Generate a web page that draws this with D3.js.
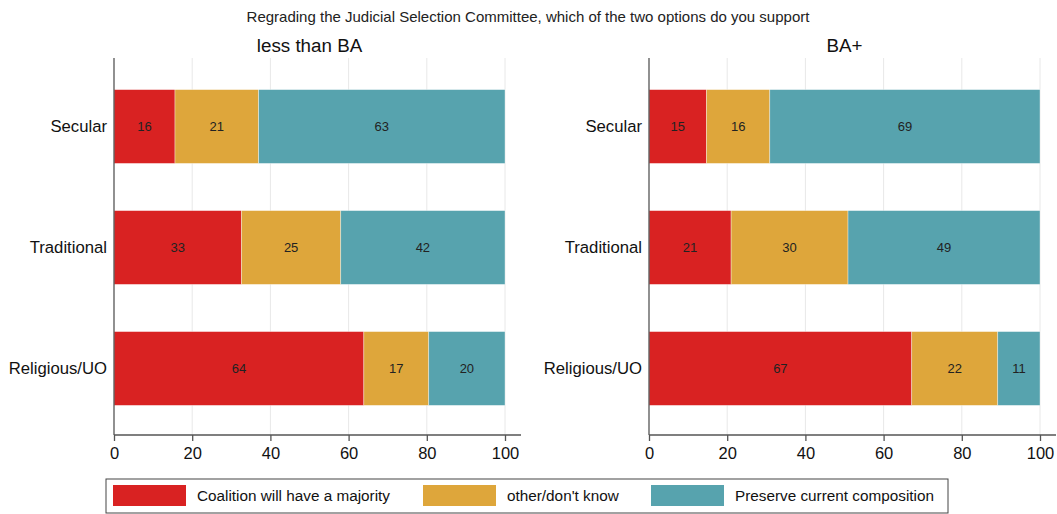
<!DOCTYPE html>
<html>
<head>
<meta charset="utf-8">
<script src="https://cdn.jsdelivr.net/npm/d3@7"></script>
<style>
  body { margin: 0; background: #fff; }
  svg { font-family: "Liberation Sans", Arial, sans-serif; }
</style>
</head>
<body>
<svg id="chart" width="1057" height="514"></svg>
<script>
// data
const categories = ["Secular", "Traditional", "Religious/UO"];
const seriesNames = ["Coalition will have a majority", "other/don't know", "Preserve current composition"];
const panelTitles = ["less than BA", "BA+"];
const lessThanBA = [
  [15.6, 21.4, 63.0],
  [32.6, 25.4, 42.0],
  [63.9, 16.6, 19.5]
];
const baPlus = [
  [14.7, 16.2, 69.1],
  [21.0, 29.9, 49.1],
  [67.2, 22.0, 10.8]
];
const xTicks = [0, 20, 40, 60, 80, 100];
const colors = ["#d92222", "#dea63b", "#57a3ae"];

const svg = d3.select("#chart");

svg.append("text")
  .attr("x", 528).attr("y", 22)
  .attr("text-anchor", "middle")
  .attr("font-size", 15)
  .attr("fill", "#222")
  .text("Regrading the Judicial Selection Committee, which of the two options do you support");

const panels = [
  {title: panelTitles[0], data: lessThanBA, left: 114},
  {title: panelTitles[1], data: baPlus, left: 649}
];

const plotTop = 58, plotBottom = 435, plotW = 391;

panels.forEach(p => {
  const g = svg.append("g").attr("transform", `translate(${p.left},0)`);

  const x = d3.scaleLinear().domain([0, 100]).range([0, plotW]);
  const y = d3.scaleBand().domain(categories).range([plotTop + 5, plotBottom - 3]).paddingInner(0.39).paddingOuter(0.22);

  // panel title
  g.append("text")
    .attr("x", plotW / 2).attr("y", 52)
    .attr("text-anchor", "middle")
    .attr("font-size", 18.8)
    .attr("fill", "#111")
    .text(p.title);

  // grid lines
  g.selectAll(".grid").data(xTicks.slice(1)).join("line")
    .attr("x1", d => x(d)).attr("x2", d => x(d))
    .attr("y1", plotTop).attr("y2", plotBottom)
    .attr("stroke", "#e8e8e8").attr("stroke-width", 1);

  // stacked bars
  const rows = p.data.map((vals, i) => {
    let acc = 0;
    return vals.map((v, k) => {
      const seg = {cat: categories[i], k: k, x0: acc, x1: acc + v, v: v};
      acc += v;
      return seg;
    });
  }).flat();

  g.selectAll(".bar").data(rows).join("rect")
    .attr("x", d => x(d.x0))
    .attr("y", d => y(d.cat))
    .attr("width", d => x(d.x1) - x(d.x0))
    .attr("height", y.bandwidth())
    .attr("fill", d => colors[d.k])
    .attr("stroke", "#fff").attr("stroke-width", 0.6).attr("stroke-opacity", 0.6);

  g.selectAll(".lab").data(rows).join("text")
    .attr("x", d => x((d.x0 + d.x1) / 2))
    .attr("y", d => y(d.cat) + y.bandwidth() / 2)
    .attr("dy", "0.35em")
    .attr("text-anchor", "middle")
    .attr("font-size", 13)
    .attr("fill", "#222")
    .text(d => Math.round(d.v));

  // category labels
  g.selectAll(".cat").data(categories).join("text")
    .attr("x", -7)
    .attr("y", d => y(d) + y.bandwidth() / 2)
    .attr("dy", "0.35em")
    .attr("text-anchor", "end")
    .attr("font-size", 16.7)
    .attr("fill", "#111")
    .text(d => d);

  // y axis line
  g.append("line")
    .attr("x1", 0).attr("x2", 0).attr("y1", plotTop).attr("y2", plotBottom)
    .attr("stroke", "#555").attr("stroke-width", 1.3);

  // x axis
  const xAxis = g.append("g").attr("transform", `translate(0,${plotBottom})`)
    .call(d3.axisBottom(x).tickValues(xTicks).tickSize(6).tickPadding(6));
  xAxis.select(".domain").remove();
  xAxis.append("line")
    .attr("x1", 0).attr("x2", plotW + 16)
    .attr("stroke", "#555").attr("stroke-width", 1.3);
  xAxis.selectAll(".tick line").attr("stroke", "#555").attr("stroke-width", 1.3);
  xAxis.selectAll(".tick text")
    .attr("font-size", 16.5).attr("fill", "#111")
    .attr("font-family", "Liberation Sans, Arial, sans-serif");
});

// legend
const legend = svg.append("g");
legend.append("rect")
  .attr("x", 106).attr("y", 479).attr("width", 842).attr("height", 34)
  .attr("fill", "#fff").attr("stroke", "#444").attr("stroke-width", 1);

const legendX = [113, 423, 651];
seriesNames.forEach((name, i) => {
  legend.append("rect")
    .attr("x", legendX[i]).attr("y", 485).attr("width", 73).attr("height", 21)
    .attr("fill", colors[i]);
  legend.append("text")
    .attr("x", legendX[i] + 84).attr("y", 496)
    .attr("dy", "0.35em")
    .attr("font-size", 15.3)
    .attr("fill", "#111")
    .text(name);
});
</script>
</body>
</html>
